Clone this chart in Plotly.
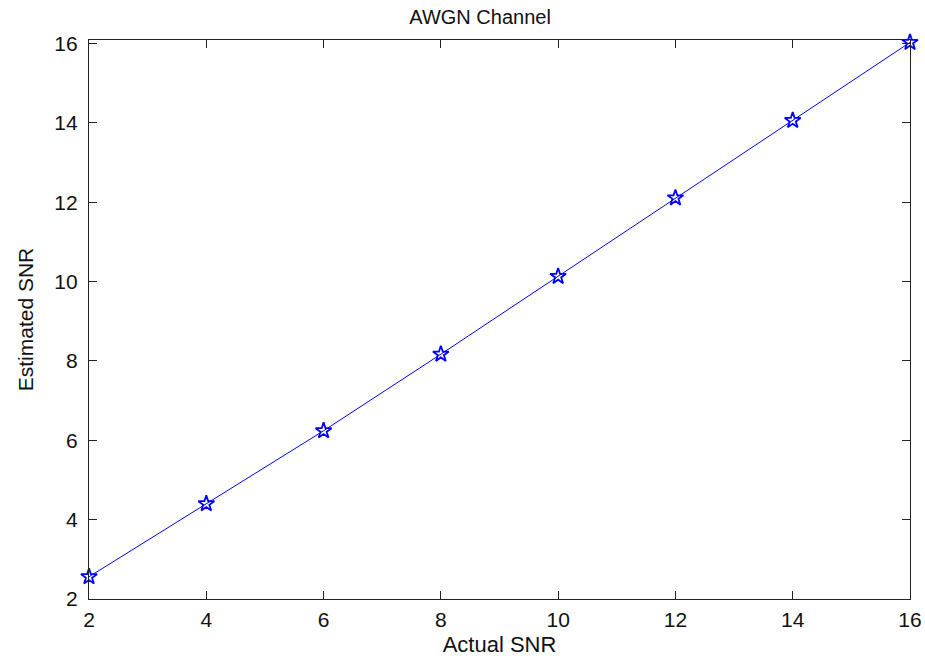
import plotly.graph_objects as go

# Actual vs estimated SNR (dB) for the AWGN channel
actual_snr = [2, 4, 6, 8, 10, 12, 14, 16]
estimated_snr = [2.56, 4.40, 6.24, 8.17, 10.13, 12.11, 14.06, 16.03]
tick_values = [2, 4, 6, 8, 10, 12, 14, 16]

FONT = "Liberation Sans, Arial, sans-serif"
AXIS_COLOR = "#222222"

fig = go.Figure()
fig.add_trace(go.Scatter(
    x=actual_snr,
    y=estimated_snr,
    mode="lines+markers",
    line=dict(color="#0000FF", width=1),
    marker=dict(symbol="star-open", size=12, color="#0000FF",
                line=dict(color="#0000FF", width=1.8)),
    showlegend=False,
    cliponaxis=False,
))

axis_common = dict(
    showline=True,
    linecolor=AXIS_COLOR,
    linewidth=1.3,
    mirror="ticks",
    ticks="inside",
    ticklen=8,
    tickwidth=1.3,
    tickcolor=AXIS_COLOR,
    showgrid=False,
    zeroline=False,
    automargin=False,
    tickvals=tick_values,
    tickfont=dict(family=FONT, size=21, color="#111111"),
)

fig.update_layout(
    width=925,
    height=659,
    margin=dict(l=89, r=15, t=40, b=60, autoexpand=False),
    paper_bgcolor="white",
    plot_bgcolor="white",
    title=dict(
        text="AWGN Channel",
        x=0.519, xanchor="center",
        y=1 - 17 / 659, yanchor="middle", yref="container",
        font=dict(family=FONT, size=20, color="#111111"),
    ),
    xaxis=dict(
        range=[2, 16],
        title=dict(text="Actual SNR", standoff=6,
                   font=dict(family=FONT, size=22, color="#111111")),
        ticklabelstandoff=2,
        **axis_common,
    ),
    yaxis=dict(
        range=[2, 16.09],
        title=dict(text="Estimated SNR", standoff=14,
                   font=dict(family=FONT, size=21, color="#111111")),
        ticklabelstandoff=6,
        **axis_common,
    ),
)

fig.write_html("out.html")
